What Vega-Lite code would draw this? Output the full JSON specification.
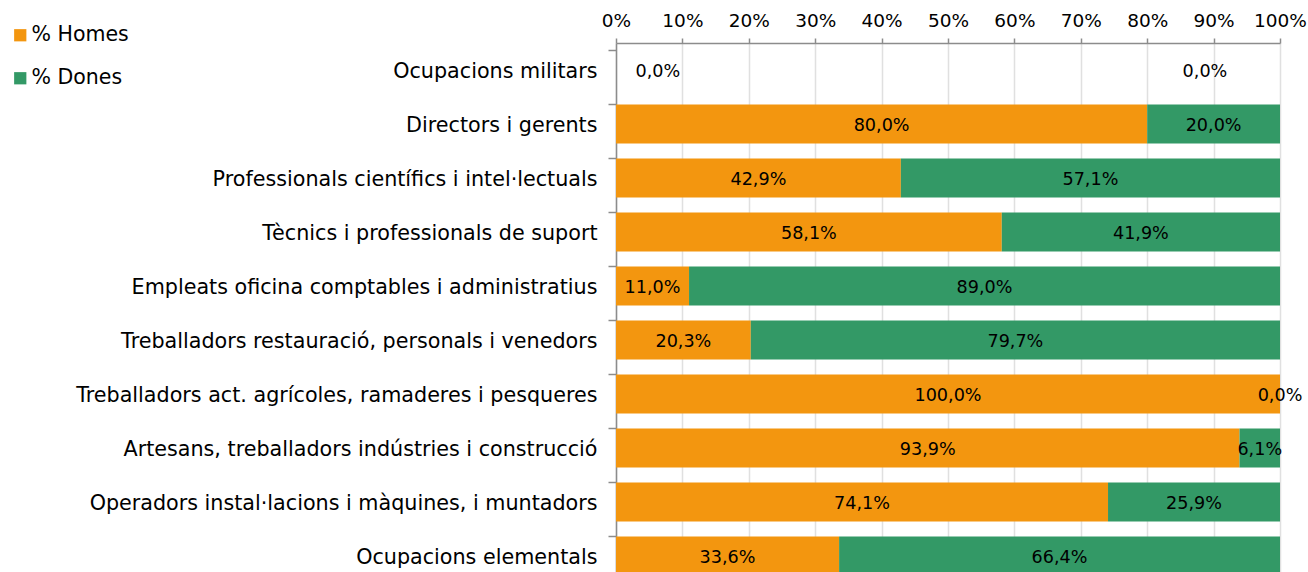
{
  "$schema": "https://vega.github.io/schema/vega-lite/v6.json",
  "width": 664,
  "height": 540,
  "autosize": {"type": "none"},
  "padding": {"left": 616, "top": 43, "right": 28, "bottom": 0},
  "background": "white",
  "config": {
    "font": "DejaVu Sans",
    "view": {"stroke": null},
    "axis": {"labelFont": "DejaVu Sans", "labelColor": "#000000"}
  },
  "data": {
    "values": [
      {"cat": "Ocupacions militars", "sexe": "% Homes", "v": 0.0},
      {"cat": "Ocupacions militars", "sexe": "% Dones", "v": 0.0},
      {"cat": "Directors i gerents", "sexe": "% Homes", "v": 80.0},
      {"cat": "Directors i gerents", "sexe": "% Dones", "v": 20.0},
      {"cat": "Professionals científics i intel·lectuals", "sexe": "% Homes", "v": 42.9},
      {"cat": "Professionals científics i intel·lectuals", "sexe": "% Dones", "v": 57.1},
      {"cat": "Tècnics i professionals de suport", "sexe": "% Homes", "v": 58.1},
      {"cat": "Tècnics i professionals de suport", "sexe": "% Dones", "v": 41.9},
      {"cat": "Empleats oficina comptables i administratius", "sexe": "% Homes", "v": 11.0},
      {"cat": "Empleats oficina comptables i administratius", "sexe": "% Dones", "v": 89.0},
      {"cat": "Treballadors restauració, personals i venedors", "sexe": "% Homes", "v": 20.3},
      {"cat": "Treballadors restauració, personals i venedors", "sexe": "% Dones", "v": 79.7},
      {"cat": "Treballadors act. agrícoles, ramaderes i pesqueres", "sexe": "% Homes", "v": 100.0},
      {"cat": "Treballadors act. agrícoles, ramaderes i pesqueres", "sexe": "% Dones", "v": 0.0},
      {"cat": "Artesans, treballadors indústries i construcció", "sexe": "% Homes", "v": 93.9},
      {"cat": "Artesans, treballadors indústries i construcció", "sexe": "% Dones", "v": 6.1},
      {"cat": "Operadors instal·lacions i màquines, i muntadors", "sexe": "% Homes", "v": 74.1},
      {"cat": "Operadors instal·lacions i màquines, i muntadors", "sexe": "% Dones", "v": 25.9},
      {"cat": "Ocupacions elementals", "sexe": "% Homes", "v": 33.6},
      {"cat": "Ocupacions elementals", "sexe": "% Dones", "v": 66.4}
    ]
  },
  "transform": [
    {"calculate": "datum.sexe == '% Homes' ? 0 : 1", "as": "ord"},
    {"stack": "v", "groupby": ["cat"], "sort": [{"field": "ord"}], "as": ["x0", "x1"]},
    {"joinaggregate": [{"op": "sum", "field": "v", "as": "total"}], "groupby": ["cat"]},
    {"calculate": "datum.total == 0 ? (datum.ord == 0 ? 6.3 : 88.7) : (datum.x0 + datum.x1) / 2", "as": "mid"},
    {"calculate": "replace(format(datum.v, '.1f'), '.', ',') + '%'", "as": "lbl"}
  ],
  "encoding": {
    "y": {
      "field": "cat",
      "type": "nominal",
      "sort": null,
      "scale": {"paddingInner": 0.28, "paddingOuter": 0.14},
      "axis": {
        "title": null,
        "bandPosition": 0,
        "domainColor": "#8c8c8c",
        "domainWidth": 1.5,
        "tickColor": "#8c8c8c",
        "tickSize": 8,
        "tickWidth": 1.5,
        "labelFontSize": 20.7,
        "labelPadding": 11,
        "labelLimit": 700,
        "labelOffset": 2,
        "grid": false
      }
    }
  },
  "layer": [
    {
      "mark": {"type": "bar"},
      "encoding": {
        "x": {
          "field": "x0",
          "type": "quantitative",
          "scale": {"domain": [0, 100], "nice": false},
          "axis": {
            "orient": "top",
            "title": null,
            "values": [0, 10, 20, 30, 40, 50, 60, 70, 80, 90, 100],
            "labelExpr": "datum.value + '%'",
            "labelOverlap": false,
            "labelFlush": false,
            "labelFontSize": 18.5,
            "labelPadding": 8,
            "tickSize": 5,
            "tickColor": "#8c8c8c",
            "tickWidth": 1.5,
            "domainColor": "#8c8c8c",
            "domainWidth": 1.5,
            "grid": true,
            "gridColor": "#e0e0e0",
            "gridWidth": 1.5
          }
        },
        "x2": {"field": "x1"},
        "color": {
          "field": "sexe",
          "type": "nominal",
          "scale": {"domain": ["% Homes", "% Dones"], "range": ["#F3960F", "#339966"]},
          "legend": {
            "title": null,
            "orient": "none",
            "legendX": -606,
            "legendY": -18,
            "symbolType": "square",
            "symbolSize": 150,
            "symbolStrokeWidth": 0,
            "labelFontSize": 20.5,
            "labelColor": "#000000",
            "labelOffset": 1,
            "rowPadding": 22
          }
        },
        "order": {"field": "ord"}
      }
    },
    {
      "mark": {"type": "text", "fontSize": 17.6, "color": "#000000", "align": "center", "baseline": "middle", "dy": 2},
      "encoding": {
        "x": {"field": "mid", "type": "quantitative"},
        "text": {"field": "lbl"}
      }
    }
  ]
}
